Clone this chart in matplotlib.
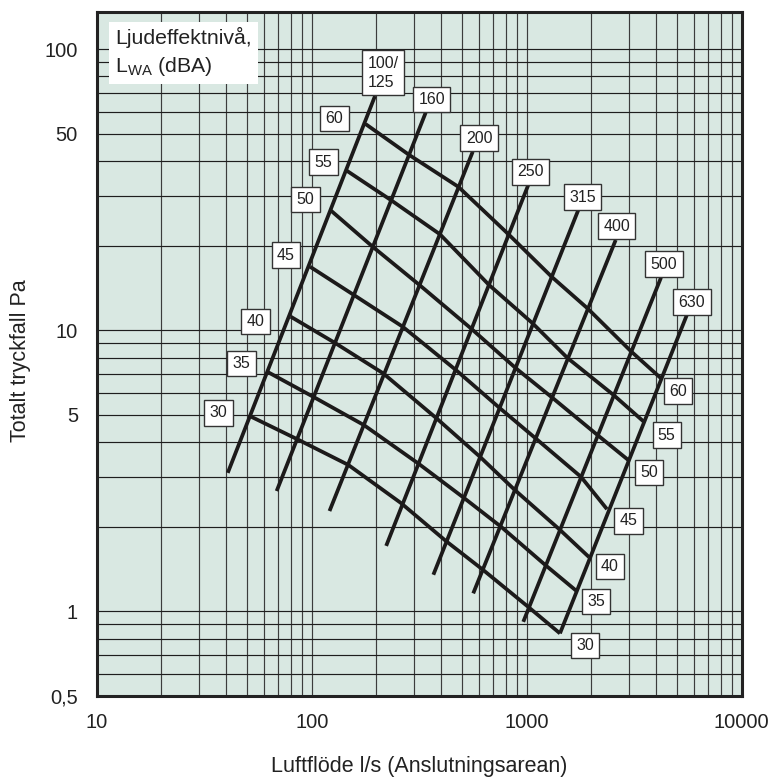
import matplotlib
matplotlib.use("Agg")
import matplotlib.pyplot as plt
from matplotlib.ticker import LogLocator, FixedLocator, FixedFormatter, NullFormatter

plt.rcParams['font.family'] = ['Liberation Sans', 'DejaVu Sans']
plt.rcParams['mathtext.fontset'] = 'custom'
plt.rcParams['mathtext.rm'] = 'Liberation Sans'
plt.rcParams['mathtext.it'] = 'Liberation Sans:italic'
plt.rcParams['mathtext.bf'] = 'Liberation Sans:bold'

# ---- data: duct size lines (flow l/s, pressure Pa) ----
sizes = ['100/\n125', '160', '200', '250', '315', '400', '500', '630']
size_q_start = [40.7, 68.7, 121, 222, 368, 564, 964, 1428]
size_p_start = [3.11, 2.68, 2.275, 1.71, 1.35, 1.159, 0.918, 0.835]
size_q_end = [197, 339, 561, 1017, 1738, 2594, 4213, 5548]
size_p_end = [68.2, 59.5, 43.2, 32.9, 26.8, 20.96, 15.4, 11.3]

# ---- data: sound power level lines L_WA (dBA) ----
levels = ['30', '35', '40', '45', '50', '55', '60']
q_30 = [52.2, 86.1, 148, 260, 421, 623, 1019, 1428]
p_30 = [4.93, 4.09, 3.32, 2.43, 1.78, 1.41, 1.036, 0.835]
q_35 = [62.8, 101.7, 175, 313, 505, 760, 1223, 1696]
p_35 = [7.09, 5.80, 4.60, 3.36, 2.55, 2.00, 1.46, 1.186]
q_40 = [79.9, 128, 215, 381, 606, 882, 1428, 1949]
p_40 = [11.18, 9.03, 7.03, 4.86, 3.55, 2.70, 1.95, 1.56]
q_45 = [98.2, 157, 265, 469, 751, 1099, 1789, 2363]
p_45 = [16.84, 13.36, 10.3, 7.22, 5.28, 4.13, 3.01, 2.31]
q_50 = [123, 192, 317, 551, 892, 1304, 2135, 2975]
p_50 = [26.65, 19.84, 14.5, 10.15, 7.32, 5.79, 4.24, 3.45]
q_55 = [145.5, 233, 395, 668, 1064, 1548, 2533, 3494]
p_55 = [36.98, 29.1, 21.96, 14.5, 10.6, 7.97, 5.89, 4.74]
q_60 = [178, 283.6, 481, 823, 1307, 1918, 3071, 4213]
p_60 = [54.2, 42.1, 32.4, 21.96, 15.5, 11.97, 8.39, 6.75]
level_q = [q_30, q_35, q_40, q_45, q_50, q_55, q_60]
level_p = [p_30, p_35, p_40, p_45, p_50, p_55, p_60]

# ---- label anchors ----
size_lbl_q = [214.6, 361, 600, 1041, 1818, 2617, 4351, 5872]
size_lbl_p = [82.4, 66.3, 48.3, 36.6, 29.8, 23.5, 17.2, 12.6]
lvl_left_q = [36.8, 47.1, 54.8, 75.9, 93.6, 113.4, 127.6]
lvl_left_p = [5.08, 7.63, 10.75, 18.5, 29.2, 39.7, 56.7]
lvl_right_q = [1874, 2102, 2440, 2975, 3698, 4479, 5072]
lvl_right_p = [0.757, 1.085, 1.446, 2.10, 3.12, 4.24, 6.08]

# ---- axes ticks ----
x_ticks = [10, 100, 1000, 10000]
x_ticklabels = ['10', '100', '1000', '10000']
y_ticks = [0.5, 1, 5, 10, 50, 100]
y_ticklabels = ['0,5', '1', '5', '10', '50', '100']

fig = plt.figure(figsize=(7.75, 7.78), dpi=100)
ax = fig.add_axes([96.7 / 775, 1 - 696 / 778, 645 / 775, 684.3 / 778])
ax.set_facecolor('#d9e8e2')
ax.set_xscale('log')
ax.set_yscale('log')
ax.set_xlim(10, 10000)
ax.set_ylim(0.5, 136)

ax.xaxis.set_major_locator(FixedLocator(x_ticks))
ax.xaxis.set_major_formatter(FixedFormatter(x_ticklabels))
ax.yaxis.set_major_locator(FixedLocator(y_ticks))
ax.yaxis.set_major_formatter(FixedFormatter(y_ticklabels))
ax.xaxis.set_minor_locator(LogLocator(base=10, subs=range(1, 10), numticks=20))
ax.yaxis.set_minor_locator(LogLocator(base=10, subs=range(1, 10), numticks=20))
ax.xaxis.set_minor_formatter(NullFormatter())
ax.yaxis.set_minor_formatter(NullFormatter())
ax.tick_params(which='both', length=0)
ax.tick_params(axis='y', pad=13.5, labelsize=14.5, colors='#222222')
ax.tick_params(axis='x', pad=12.5, labelsize=14.5, colors='#222222')

ax.xaxis.grid(True, which='both', color='#3c3c3c', lw=0.85, zorder=1)
ax.yaxis.grid(True, which='both', color='#1e1e1e', lw=0.85, zorder=1)
ax.set_axisbelow(True)
for s in ax.spines.values():
    s.set_linewidth(2.2)
    s.set_color('#222222')

line_kw = dict(color='#1c1a1a', lw=2.7, solid_capstyle='butt', zorder=3)
for i in range(len(sizes)):
    ax.plot([size_q_start[i], size_q_end[i]], [size_p_start[i], size_p_end[i]], **line_kw)
for i in range(len(levels)):
    ax.plot(level_q[i], level_p[i], solid_joinstyle='miter', **line_kw)

box = dict(boxstyle='square,pad=0.33', fc='white', ec='#333333', lw=1.0)
for i, s in enumerate(sizes):
    ax.text(size_lbl_q[i], size_lbl_p[i], s, ha='center', va='center', fontsize=11.5,
            color='#222222', bbox=box, zorder=5, multialignment='left', linespacing=1.35)
for i, s in enumerate(levels):
    ax.text(lvl_left_q[i], lvl_left_p[i], s, ha='center', va='center', fontsize=11.5,
            color='#222222', bbox=box, zorder=5)
    ax.text(lvl_right_q[i], lvl_right_p[i], s, ha='center', va='center', fontsize=11.5,
            color='#222222', bbox=box, zorder=5)

ax.text(0.0284, 0.978, 'Ljudeffektnivå,\nL$_{\\mathrm{WA}}$ (dBA)', transform=ax.transAxes,
        ha='left', va='top', fontsize=15.3, color='#222222', linespacing=1.4,
        bbox=dict(boxstyle='square,pad=0.3', fc='white', ec='none'), zorder=6)

ax.set_xlabel('Luftflöde l/s (Anslutningsarean)', fontsize=15.5, color='#222222', va='center')
ax.xaxis.set_label_coords(0.5, -0.1023)
ax.set_ylabel('Totalt tryckfall Pa', fontsize=15.5, color='#222222', va='center', ha='center')
ax.yaxis.set_label_coords(-0.1174, 0.49)

fig.savefig('out.png', dpi=100)
